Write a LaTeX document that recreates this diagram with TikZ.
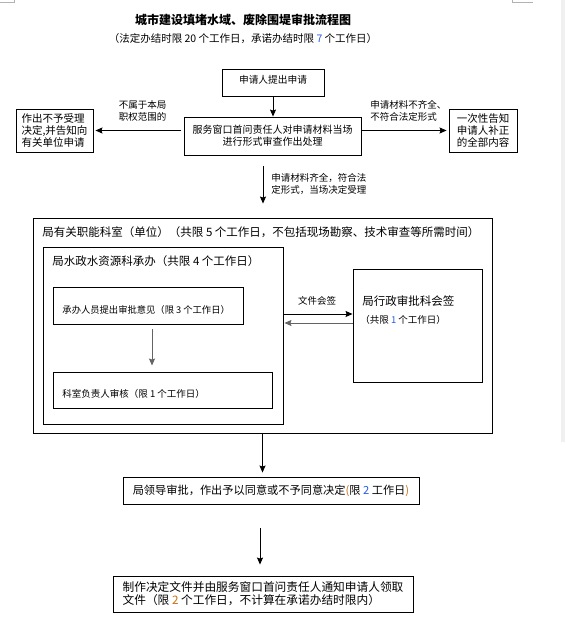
\documentclass[tikz,border=0pt]{standalone}
\usepackage{fontspec}
\setmainfont{Noto Sans CJK SC}
\usepackage{xcolor}
\usetikzlibrary{arrows,arrows.meta}
\definecolor{numblue}{RGB}{40,90,230}
\definecolor{numorange}{RGB}{200,110,20}
\definecolor{arrowgray}{RGB}{100,100,100}

\begin{document}
\begin{tikzpicture}[x=1pt,y=-1pt,line width=0.9pt,
  box/.style={draw,rectangle,inner sep=0pt},
  txt/.style={inner sep=0pt,font=\fontsize{9.5}{12}\selectfont},
  arr/.style={-{Stealth[length=7pt,width=6pt,inset=1pt]},line width=0.9pt}]
\useasboundingbox (0,0) rectangle (565,631);

% page marks
\draw[gray!60,line width=0.6pt] (0,2) -- (14,2) -- (14,0);
\draw[gray!60,line width=0.6pt] (533,2) -- (512,2) -- (512,0);
\fill[gray!12] (561,0) rectangle (565,442);

% title
\node[txt,font=\bfseries\fontsize{12}{14}\selectfont] (title) at (243,20) {城市建设填堵水域、废除围堤审批流程图};
\node[txt,font=\fontsize{10.5}{12}\selectfont] (subtitle) at (243,39) {（法定办结时限 20 个工作日，承诺办结时限 \textcolor{numblue}{7} 个工作日）};

% application and check
\node[box,minimum width=102,minimum height=27,text depth=6pt,font=\fontsize{9.7}{12}\selectfont] (apply) at (273,82.5) {申请人提出申请};
\node[box,minimum width=177,minimum height=38,align=center,font=\fontsize{10}{12}\selectfont] (check) at (272.5,136) {服务窗口首问责任人对申请材料当场\\进行形式审查作出处理};
\node[box,minimum width=77,minimum height=43,align=left,font=\fontsize{10.5}{12.3}\selectfont] (refuse) at (54.5,130.5) {作出不予受理\\决定,并告知向\\有关单位申请};
\node[box,minimum width=68,minimum height=43,align=left,font=\fontsize{10.5}{12.3}\selectfont] (notify) at (483,130.5) {一次性告知\\申请人补正\\的全部内容};

\node[txt,align=center] (outscope) at (142.5,111) {不属于本局\\职权范围的};
\node[txt,align=left,anchor=west] (incomplete) at (370,111) {申请材料不齐全、\\不符合法定形式};
\node[txt,align=left,anchor=west] (accepted) at (271,183.5) {申请材料齐全，符合法\\定形式，当场决定受理};

\draw[arr] (apply.south) -- (apply.south |- check.north);
\draw[arr,shorten <=3pt,shorten >=2pt] (check.west |- refuse.east) -- (refuse.east);
\draw[arr,shorten <=1pt,shorten >=2pt] (check.east |- notify.west) -- (notify.west);

% department
\node[box,minimum width=459,minimum height=215] (dept) at (262.5,325.5) {};
\node[txt,anchor=west,font=\fontsize{11.5}{13}\selectfont] (depttitle) at (42,232) {局有关职能科室（单位）（共限 5 个工作日，不包括现场勘察、技术审查等所需时间）};
\coordinate (acc) at (263,166);
\draw[arr,shorten >=14pt] (acc) -- (acc |- dept.north);

\node[box,minimum width=240,minimum height=177] (water) at (163,335.5) {};
\node[txt,anchor=west,font=\fontsize{11.5}{13}\selectfont] (watertitle) at (52,261) {局水政水资源科承办（共限 4 个工作日）};

\node[box,minimum width=190,minimum height=37] (opinion) at (148,305.5) {};
\node[txt,anchor=west,font=\fontsize{9.3}{11}\selectfont] (opiniontext) at (62,310) {承办人员提出审批意见（限 3 个工作日）};
\node[box,minimum width=219,minimum height=36] (review) at (162.5,390) {};
\node[txt,anchor=west,font=\fontsize{9.5}{11}\selectfont] (reviewtext) at (62,394) {科室负责人审核（限 1 个工作日）};
\coordinate (opx) at (152,0);
\draw[arr,arrowgray,shorten <=5pt,shorten >=6pt] (opinion.south -| opx) -- (review.north -| opx);

\node[box,minimum width=129,minimum height=113] (sign) at (417.5,325.5) {};
\node[txt,anchor=west,font=\fontsize{11.5}{13}\selectfont] (signtitle) at (362,301) {局行政审批科会签};
\node[txt,anchor=west] (signtime) at (360,320) {（共限 \textcolor{numblue}{1} 个工作日）};
\node[txt] (cosign) at (317,301) {文件会签};

\coordinate (sendy) at (0,314);
\coordinate (backy) at (0,323);
\draw[arr] (water.east |- sendy) -- (sign.west |- sendy);
\draw[arr,arrowgray,shorten >=1pt] (sign.west |- backy) -- (water.east |- backy);

% decision
\node[box,minimum width=296,minimum height=27,font=\fontsize{11.2}{13}\selectfont] (leader) at (271,490.5) {局领导审批，作出予以同意或不予同意决定\textcolor{numorange}{(}限 \textcolor{numblue}{2} 工作日\textcolor{numorange}{)}};
\draw[arr,shorten >=4pt] (dept.south) -- (dept.south |- leader.north);

\node[box,minimum width=300,minimum height=36,align=left,font=\fontsize{11.7}{13}\selectfont] (notice) at (263,594) {制作决定文件并由服务窗口首问责任人通知申请人领取\\文件（限 \textcolor{numorange}{2} 个工作日，不计算在承诺办结时限内）};
\coordinate (lead) at (260,528);
\draw[arr,shorten >=11pt] (lead) -- (lead |- notice.north);
\end{tikzpicture}
\end{document}
